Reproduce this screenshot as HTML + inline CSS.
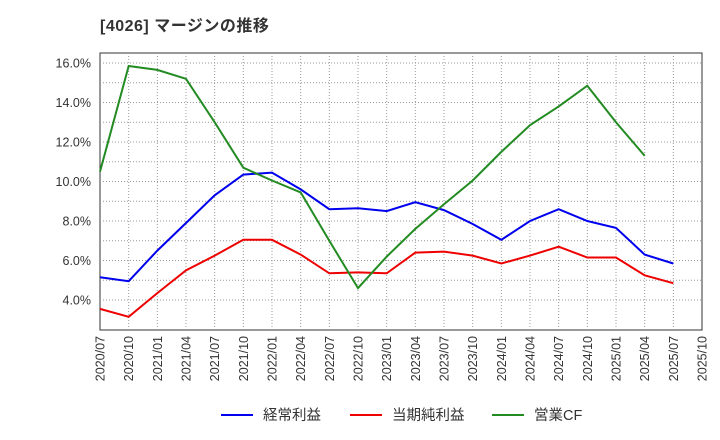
<!DOCTYPE html>
<html><head><meta charset="utf-8"><style>
html,body{margin:0;padding:0;background:#fff;}
svg{display:block;font-family:"Liberation Sans","Noto Sans CJK JP",sans-serif;}
</style></head><body>
<svg id="c" width="720" height="440" xmlns="http://www.w3.org/2000/svg"></svg>
<script>
const s=document.getElementById('c');
const X0=100,X1=702,Y0=53,Y1=330;
const xq=i=>X0+i*(X1-X0)/21;
const yv=v=>63+(16-v)*19.75;
let h='';
h+=`<text x="100" y="31" font-size="16" font-weight="bold" fill="#333" letter-spacing="0.5">[4026]  マージンの推移</text>`;
h+=`<rect x="${X0}" y="${Y0}" width="${X1-X0}" height="${Y1-Y0}" fill="#fff" stroke="#333" stroke-width="1"/>`;
for(let v=4;v<=16;v+=1){const y=yv(v);h+=`<line x1="${X0}" x2="${X1}" y1="${y}" y2="${y}" stroke="#999" stroke-dasharray="1,2" stroke-width="1"/>`;}
for(let v=4;v<=16;v+=2){h+=`<text x="91" y="${yv(v)+4.5}" font-size="12.5" text-anchor="end" fill="#333">${v.toFixed(1)}%</text>`;}
const labs=[];for(let y=2020,m=7;labs.length<22;){labs.push(y+'/'+String(m).padStart(2,'0'));m+=3;if(m>12){m-=12;y++;}}
labs.forEach((l,i)=>{const x=xq(i);if(i>0&&i<21)h+=`<line x1="${x}" x2="${x}" y1="${Y0}" y2="${Y1}" stroke="#999" stroke-dasharray="1,2"/>`;
h+=`<text transform="translate(${x+4.5},${Y1+6}) rotate(-90)" font-size="12.5" text-anchor="end" fill="#333">${l}</text>`;});
const ser=[
['#0000ee',[5.15,4.95,6.5,7.9,9.3,10.35,10.45,9.6,8.6,8.65,8.5,8.95,8.55,7.85,7.05,8.0,8.6,8.0,7.65,6.3,5.85]],
['#ee0000',[3.55,3.15,4.35,5.5,6.25,7.05,7.05,6.3,5.35,5.4,5.35,6.4,6.45,6.25,5.85,6.25,6.7,6.15,6.15,5.25,4.85]],
['#228b22',[10.5,15.85,15.65,15.2,13.0,10.7,10.05,9.45,7.0,4.6,6.2,7.6,8.85,10.05,11.5,12.85,13.8,14.85,13.0,11.3]]];
ser.forEach(([c,d])=>{h+=`<polyline fill="none" stroke="${c}" stroke-width="2" points="${d.map((v,i)=>xq(i).toFixed(1)+','+yv(v).toFixed(1)).join(' ')}"/>`;});
const leg=[['#0000ee','経常利益',221],['#ee0000','当期純利益',350],['#228b22','営業CF',492]];
leg.forEach(([c,t,x])=>{h+=`<line x1="${x}" x2="${x+32}" y1="415" y2="415" stroke="${c}" stroke-width="2"/><text x="${x+42}" y="420" font-size="14.5" fill="#333">${t}</text>`;});
s.innerHTML=h;
</script>
</body></html>
